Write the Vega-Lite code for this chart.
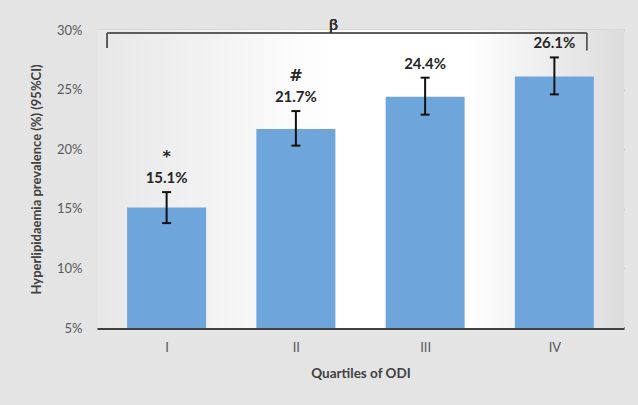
{
  "$schema": "https://vega.github.io/schema/vega-lite/v6.json",
  "width": 527,
  "height": 298,
  "autosize": {"type": "none"},
  "padding": {"left": 97, "top": 30, "right": 14, "bottom": 77},
  "background": "#e4e4e4",
  "config": {
    "view": {"stroke": null},
    "font": "Lato",
    "axis": {"labelFont": "Lato", "titleFont": "Lato"}
  },
  "data": {
    "values": [
      {"q": 1, "v": 15.1, "lo": 13.8, "hi": 16.4, "txt": "15.1%", "sym": "*"},
      {"q": 2, "v": 21.7, "lo": 20.3, "hi": 23.2, "txt": "21.7%", "sym": "#"},
      {"q": 3, "v": 24.4, "lo": 22.9, "hi": 26.0, "txt": "24.4%", "sym": ""},
      {"q": 4, "v": 26.1, "lo": 24.6, "hi": 27.7, "txt": "26.1%", "sym": ""}
    ]
  },
  "layer": [
    {
      "mark": {"type": "rect", "color": {"gradient": "linear", "x1": 0, "x2": 1, "y1": 0, "y2": 0, "stops": [{"offset": 0, "color": "#e7e7e7"}, {"offset": 0.45, "color": "#ffffff"}, {"offset": 0.7, "color": "#ffffff"}, {"offset": 1, "color": "#dcdcdc"}]}},
      "encoding": {}
    },
    {
      "mark": {"type": "bar", "size": 79, "color": "#6ea6dc"},
      "encoding": {
        "x": {"field": "q", "type": "quantitative", "title": "Quartiles of ODI",
          "scale": {"domain": [0.5, 4.5], "nice": false, "zero": false},
          "axis": {"values": [1, 2, 3, 4], "labelExpr": "['','I','II','III','IV'][datum.value]", "grid": false, "ticks": false,
            "domainColor": "#404040", "domainWidth": 3, "labelColor": "#595959", "labelFontSize": 13, "labelPadding": 13,
            "titleFontSize": 13.5, "titleFontWeight": "bold", "titleColor": "#404040", "titleY": 45, "titleBaseline": "middle"}},
        "y": {"field": "v", "type": "quantitative", "title": "Hyperlipidaemia prevalence (%) (95%CI)",
          "scale": {"domain": [5, 30], "nice": false, "zero": false},
          "axis": {"values": [5, 10, 15, 20, 25, 30], "labelExpr": "datum.value + '%'", "domain": false, "ticks": false,
            "gridColor": "#b4b4b4", "gridWidth": 1.5, "labelColor": "#595959", "labelFontSize": 13, "labelPadding": 15,
            "titleFontSize": 13, "titleFontWeight": "bold", "titleColor": "#404040", "titleX": -61, "titleBaseline": "middle"}},
        "y2": {"datum": 5}
      }
    },
    {
      "mark": {"type": "rule", "color": "#111111", "strokeWidth": 2},
      "encoding": {
        "x": {"field": "q", "type": "quantitative", "title": "Quartiles of ODI"},
        "y": {"field": "lo", "type": "quantitative", "title": "Hyperlipidaemia prevalence (%) (95%CI)"},
        "y2": {"field": "hi"}
      }
    },
    {
      "mark": {"type": "tick", "orient": "horizontal", "size": 9, "thickness": 2, "color": "#111111", "opacity": 1},
      "encoding": {
        "x": {"field": "q", "type": "quantitative", "title": "Quartiles of ODI"},
        "y": {"field": "lo", "type": "quantitative", "title": "Hyperlipidaemia prevalence (%) (95%CI)"}
      }
    },
    {
      "mark": {"type": "tick", "orient": "horizontal", "size": 9, "thickness": 2, "color": "#111111", "opacity": 1},
      "encoding": {
        "x": {"field": "q", "type": "quantitative", "title": "Quartiles of ODI"},
        "y": {"field": "hi", "type": "quantitative", "title": "Hyperlipidaemia prevalence (%) (95%CI)"}
      }
    },
    {
      "mark": {"type": "text", "dy": -14, "fontSize": 15, "fontWeight": "bold", "color": "#262626", "baseline": "middle"},
      "encoding": {
        "x": {"field": "q", "type": "quantitative", "title": "Quartiles of ODI"},
        "y": {"field": "hi", "type": "quantitative", "title": "Hyperlipidaemia prevalence (%) (95%CI)"},
        "text": {"field": "txt"}
      }
    },
    {
      "mark": {"type": "text", "dy": -35, "font": "DejaVu Sans", "fontSize": 16, "fontWeight": "bold", "color": "#262626", "baseline": "middle"},
      "encoding": {
        "x": {"field": "q", "type": "quantitative", "title": "Quartiles of ODI"},
        "y": {"field": "hi", "type": "quantitative", "title": "Hyperlipidaemia prevalence (%) (95%CI)"},
        "text": {"field": "sym"}
      }
    },
    {
      "mark": {"type": "rule", "color": "#555555", "strokeWidth": 1.2},
      "encoding": {"x": {"datum": 0.54}, "y": {"datum": 28.5}, "y2": {"datum": 29.75}}
    },
    {
      "mark": {"type": "rule", "color": "#555555", "strokeWidth": 1.2},
      "encoding": {"x": {"datum": 0.54}, "x2": {"datum": 4.25}, "y": {"datum": 29.75}}
    },
    {
      "mark": {"type": "rule", "color": "#555555", "strokeWidth": 1.2},
      "encoding": {"x": {"datum": 4.25}, "y": {"datum": 28.3}, "y2": {"datum": 29.75}}
    },
    {
      "mark": {"type": "text", "fontSize": 16, "color": "#333333", "baseline": "middle", "text": "β"},
      "encoding": {"x": {"datum": 2.29}, "y": {"datum": 30.45}}
    }
  ]
}
